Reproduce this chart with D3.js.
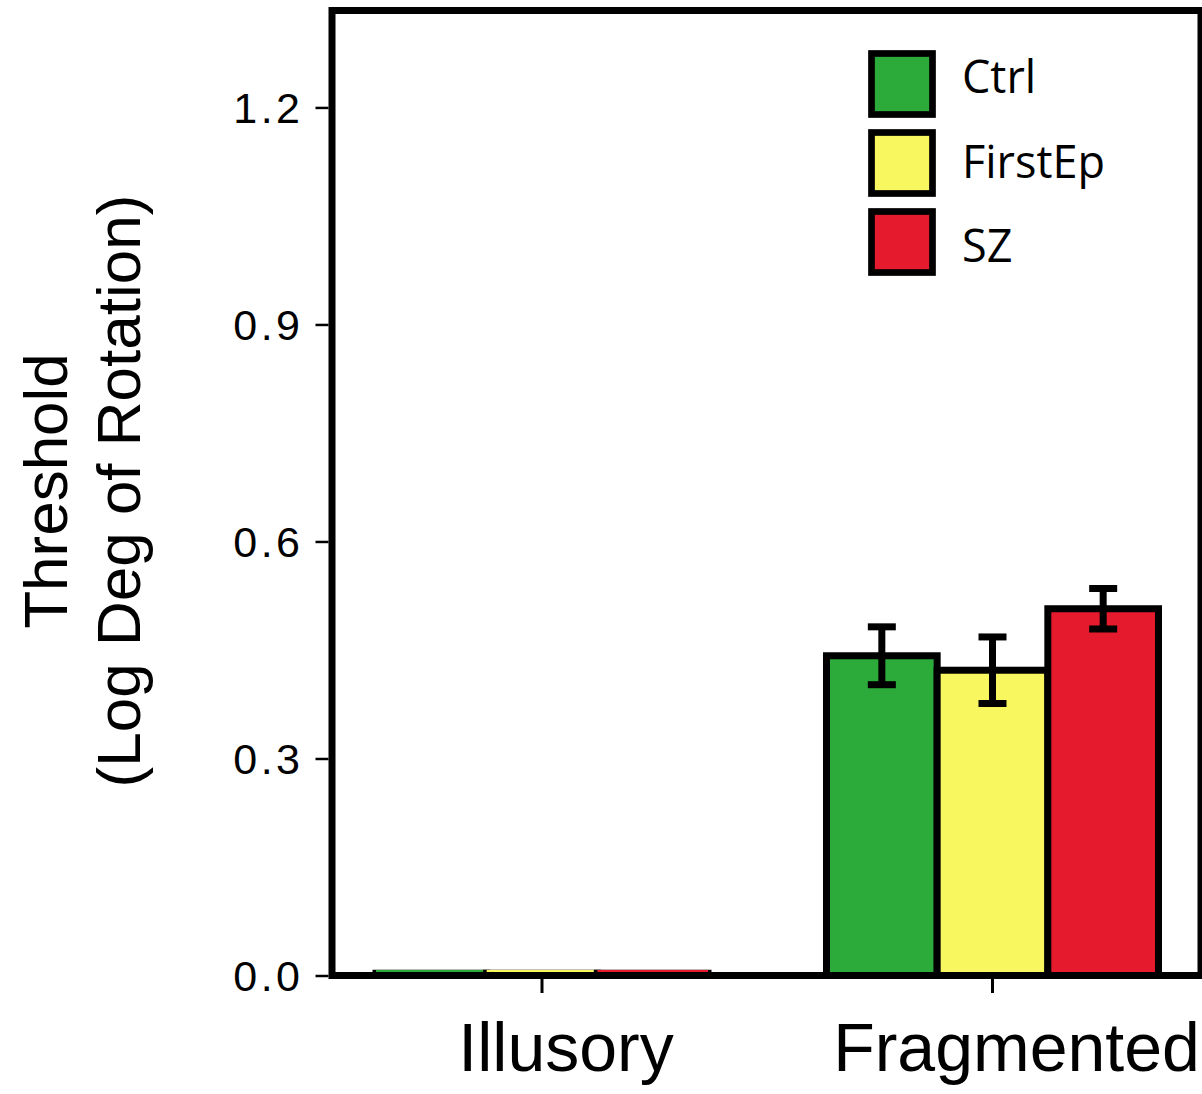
<!DOCTYPE html>
<html>
<head>
<meta charset="utf-8">
<script src="https://cdn.jsdelivr.net/npm/d3@7"></script>
<style>
  html, body { margin: 0; padding: 0; background: #fff; }
  svg { display: block; }
</style>
</head>
<body>
<svg id="chart" width="1202" height="1094"></svg>
<script>
// Stimulus conditions on the x axis and participant groups within each
const conditions = ["Illusory", "Fragmented"];
const groups = ["Ctrl", "FirstEp", "SZ"];

// Mean threshold (log degrees of rotation) per group, one array per condition order
const ctrlMeans    = [0.008, 0.442];
const firstEpMeans = [0.008, 0.422];
const szMeans      = [0.008, 0.507];

// Error bar half-lengths (Illusory has none shown)
const ctrlErr    = [null, 0.040];
const firstEpErr = [null, 0.046];
const szErr      = [null, 0.028];

const yTicks = [0.0, 0.3, 0.6, 0.9, 1.2];
const groupColors = ["#2cab3a", "#f9f760", "#e51b2d"];

const svg = d3.select("#chart");
const SW = 7; // outline weight used throughout

const y = d3.scaleLinear().domain([0, 1.334]).range([975.5, 10.5]);
const x0 = d3.scaleBand().domain(conditions).range([316.75, 1217.75])
  .paddingInner(0.263).paddingOuter(0.1315);
const x1 = d3.scaleBand().domain(groups).range([0, x0.bandwidth()]);
const color = d3.scaleOrdinal().domain(groups).range(groupColors);

const means = { Ctrl: ctrlMeans, FirstEp: firstEpMeans, SZ: szMeans };
const errs  = { Ctrl: ctrlErr, FirstEp: firstEpErr, SZ: szErr };

const rows = [];
conditions.forEach((c, ci) => groups.forEach(g => {
  rows.push({ cond: c, group: g, value: means[g][ci], err: errs[g][ci] });
}));

const defs = svg.append("defs");

// Bars
const bars = svg.append("g");
rows.forEach((d, i) => {
  const bx = x0(d.cond) + x1(d.group);
  const by = y(d.value);
  const h = y(0) - by;
  const tiny = h < SW;
  const r = bars.append("rect")
    .attr("x", bx).attr("y", by)
    .attr("width", x1.bandwidth()).attr("height", h)
    .attr("fill", color(d.group))
    .attr("stroke", "#000").attr("stroke-width", SW)
    .attr("stroke-linejoin", "miter");
  if (tiny) {
    // very short bars: keep the colour visible above the baseline
    const id = "clip" + i;
    defs.append("clipPath").attr("id", id).append("rect")
      .attr("x", bx - SW).attr("y", by)
      .attr("width", x1.bandwidth() + 2 * SW).attr("height", h + SW * 2);
    r.attr("paint-order", "stroke").attr("clip-path", `url(#${id})`);
  }
});

// Error bars
const eb = svg.append("g").attr("stroke", "#000").attr("stroke-width", SW);
rows.filter(d => d.err != null).forEach(d => {
  const cx = x0(d.cond) + x1(d.group) + x1.bandwidth() / 2;
  const top = y(d.value + d.err), bot = y(d.value - d.err);
  eb.append("line").attr("x1", cx).attr("x2", cx).attr("y1", top).attr("y2", bot);
  [top, bot].forEach(yy => eb.append("line")
    .attr("x1", cx - 14).attr("x2", cx + 14).attr("y1", yy).attr("y2", yy));
});

// Plot frame
svg.append("rect")
  .attr("x", 332).attr("y", y(1.334))
  .attr("width", 1201 - 332).attr("height", y(0) - y(1.334))
  .attr("fill", "none").attr("stroke", "#000").attr("stroke-width", SW);

// Y axis
const yAxis = svg.append("g").attr("transform", "translate(328.5,0)")
  .call(d3.axisLeft(y).tickValues(yTicks).tickFormat(d3.format(".1f"))
    .tickSize(13).tickPadding(12));
yAxis.select(".domain").remove();
yAxis.selectAll(".tick line").attr("stroke", "#000").attr("stroke-width", 2.5);
yAxis.selectAll(".tick text")
  .attr("fill", "#000")
  .style("font-family", "'Liberation Sans', Arial, Helvetica, sans-serif")
  .style("font-size", "43px")
  .style("letter-spacing", "3.5px")
  .attr("dy", "0.36em");

// X axis
const xAxis = svg.append("g").attr("transform", `translate(0,${y(0) + 3.5})`)
  .call(d3.axisBottom(x0).tickSize(14).tickPadding(30));
xAxis.select(".domain").remove();
xAxis.selectAll(".tick line").attr("stroke", "#000").attr("stroke-width", 3);
xAxis.selectAll(".tick text")
  .attr("fill", "#000")
  .attr("dx", 24)
  .style("font-family", "'Liberation Sans', Arial, Helvetica, sans-serif")
  .style("font-size", "68px");

// Y axis title
const title = svg.append("text")
  .attr("transform", "translate(0,491) rotate(-90)")
  .attr("text-anchor", "middle")
  .style("font-family", "'Liberation Sans', Arial, Helvetica, sans-serif")
  .style("font-size", "62px")
  .attr("fill", "#000");
title.append("tspan").attr("x", 0).attr("y", 67).text("Threshold");
title.append("tspan").attr("x", 0).attr("y", 140).text("(Log Deg of Rotation)");

// Legend
const legend = svg.append("g");
groups.forEach((g, i) => {
  legend.append("rect")
    .attr("x", 871.5).attr("y", 53.5 + i * 79)
    .attr("width", 61).attr("height", 61)
    .attr("fill", color(g)).attr("stroke", "#000").attr("stroke-width", 6.7);
  legend.append("text")
    .attr("x", 962).attr("y", 93 + i * 84.7)
    .style("font-family", "'Open Sans', 'Noto Sans', sans-serif")
    .style("font-size", "45px")
    .attr("fill", "#000")
    .text(g);
});
</script>
</body>
</html>
